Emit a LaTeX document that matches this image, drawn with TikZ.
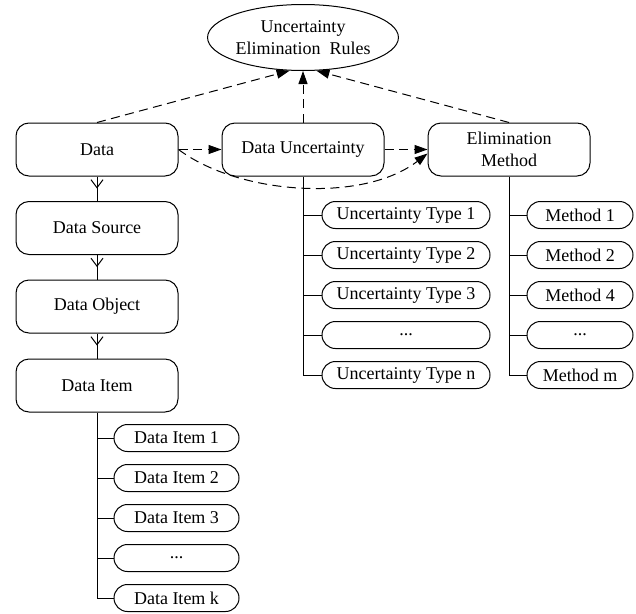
\documentclass[tikz,border=0pt]{standalone}
\usepackage{fontspec}
\setmainfont{Liberation Serif}
\usetikzlibrary{arrows.meta,decorations.markings,shapes.geometric}
\begin{document}
\begin{tikzpicture}[x=1pt,y=1pt,
  line width=1pt,
  font=\fontsize{18}{22}\selectfont,
  bigbox/.style={draw, rounded corners=13pt, minimum width=162pt, minimum height=53pt, inner sep=0pt, align=center},
  pill/.style={draw, rounded corners=13.5pt, minimum height=27pt, inner sep=0pt},
  utbox/.style={pill, minimum width=168pt},
  mbox/.style={pill, minimum width=106pt},
  dibox/.style={pill, minimum width=125pt},
  dashline/.style={dash pattern=on 9pt off 5.5pt, -{Triangle[length=13pt,width=9pt]}},
  chainline/.style={postaction={decorate}, decoration={markings, mark=at position 12pt with {\arrow{Straight Barb[length=8pt,width=12pt]}}}},
]
\useasboundingbox (0,0) rectangle (636,-613);

% top ellipse
\node[draw, ellipse, minimum width=180pt, minimum height=66pt, inner sep=0pt, align=center] (rules) at (303,-37.5) {Uncertainty\\Elimination\ \ Rules};

% main row
\node[bigbox] (data) at (97,-149.5) {Data};
\node[bigbox] (du) at (303,-149.5) {Data Uncertainty};
\node[bigbox] (em) at (509,-149.5) {Elimination\\Method};

% left chain
\node[bigbox] (src) at (97,-228) {Data Source};
\node[bigbox] (obj) at (97,-306.5) {Data Object};
\node[bigbox] (item) at (97,-385.5) {Data Item};

% uncertainty types
\node[utbox] (ut1) at (406,-215) {Uncertainty Type 1};
\node[utbox] (ut2) at (406,-255) {Uncertainty Type 2};
\node[utbox] (ut3) at (406,-295) {Uncertainty Type 3};
\node[utbox] (ut4) at (406,-335) {...};
\node[utbox] (ut5) at (406,-375) {Uncertainty Type n};

% methods
\node[mbox] (m1) at (580,-215) {Method 1};
\node[mbox] (m2) at (580,-255) {Method 2};
\node[mbox] (m3) at (580,-295) {Method 4};
\node[mbox] (m4) at (580,-335) {...};
\node[mbox] (m5) at (580,-375) {Method m};

% data items
\node[dibox] (di1) at (176.5,-438) {Data Item 1};
\node[dibox] (di2) at (176.5,-478) {Data Item 2};
\node[dibox] (di3) at (176.5,-518) {Data Item 3};
\node[dibox] (di4) at (176.5,-558) {...};
\node[dibox] (di5) at (176.5,-598) {Data Item k};

% dashed arrows to rules
\draw[dashline] (data.north) -- (rules.248);
\draw[dashline] (du.north) -- (rules.south);
\draw[dashline] (em.north) -- (rules.292);

% dashed arrows in main row
\draw[dashline] (data.east) -- (du.west);
\draw[dashline] (du.east) -- (em.west);
\draw[dashline] (data.east) .. controls +(60,-45) and +(-65,-50) .. ([yshift=-4pt]em.west);

% left chain connectors
\draw[chainline] (data.south) -- (src.north);
\draw[chainline] (src.south) -- (obj.north);
\draw[chainline] (obj.south) -- (item.north);

% trees
\draw (du.south) |- (ut5.west);
\foreach \k in {1,2,3,4} \draw (du.south |- ut\k.west) -- (ut\k.west);
\draw (em.south) |- (m5.west);
\foreach \k in {1,2,3,4} \draw (em.south |- m\k.west) -- (m\k.west);
\draw (item.south) |- (di5.west);
\foreach \k in {1,2,3,4} \draw (item.south |- di\k.west) -- (di\k.west);
\end{tikzpicture}
\end{document}
